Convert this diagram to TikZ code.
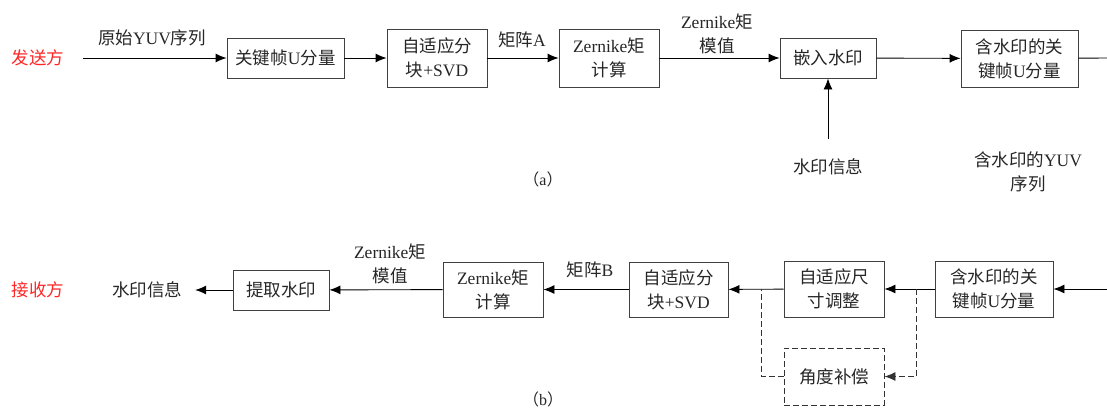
\documentclass[tikz,border=0pt]{standalone}
\usepackage{fontspec}
\setmainfont{Liberation Serif}
\newfontfamily\cjk{Noto Sans CJK SC}
\usetikzlibrary{arrows.meta}
\newcommand\zh[1]{{\cjk #1}}
\begin{document}
\begin{tikzpicture}[x=1pt,y=-1pt,
  every node/.style={font=\fontsize{17.5}{24}\selectfont, text=black!85, inner sep=0pt, align=center},
  blk/.style={draw=black!75, line width=0.9pt},
  arr/.style={line width=0.9pt, draw=black, -{Latex[length=11pt,width=9pt]}},
  ln/.style={line width=0.9pt, draw=black},
  dsh/.style={line width=0.9pt, draw=black!80, dash pattern=on 6pt off 3pt}
]
\useasboundingbox (0,0) rectangle (1107,407);
% ---------- sender (a) ----------
\node[text=red!85] (t1) at (38,58) {\zh{发送方}};
\coordinate (in1) at (83,58);
\coordinate (out1) at (1107,58);
\node[blk, minimum width=117pt, minimum height=40pt] (k1) at (285.5,58) {\zh{关键帧}U\zh{分量}};
\node[blk, minimum width=100pt, minimum height=58pt] (s1) at (437,58) {\zh{自适应分}\\\zh{块}+SVD};
\node[blk, minimum width=100pt, minimum height=58pt] (z1) at (609,58) {Zernike\zh{矩}\\\zh{计算}};
\node[blk, minimum width=96pt, minimum height=40pt] (e1) at (828,58) {\zh{嵌入水印}};
\node[blk, minimum width=117pt, minimum height=57pt] (w1) at (1019.5,58.5) {\zh{含水印的关}\\\zh{键帧}U\zh{分量}};
\node (wm1) at (828,167) {\zh{水印信息}};
\coordinate (c1) at (828,139);
\node (yuv) at (1028,172) {\zh{含水印的}YUV\\\zh{序列}};
\node (l1) at (152,38) {\zh{原始}YUV\zh{序列}};
\node (l2) at (522,40) {\zh{矩阵}A};
\node (l3) at (717,34) {Zernike\zh{矩}\\\zh{模值}};
\node[font=\fontsize{16}{18}\selectfont] (ca) at (543,179) {\zh{（}a\zh{）}};
\draw[arr] (in1) -- (k1);
\draw[arr] (k1) -- (s1);
\draw[arr] (s1) -- (z1);
\draw[arr] (z1) -- (e1);
\draw[arr] (e1) -- (w1);
\draw[ln] (w1) -- (out1);
\draw[arr] (c1) -- (e1);
% ---------- receiver (b) ----------
\node[text=red!85] (t2) at (38,290) {\zh{接收方}};
\node (wm2) at (147,290) {\zh{水印信息}};
\node[blk, minimum width=96pt, minimum height=40pt] (p1) at (281,290) {\zh{提取水印}};
\node[blk, minimum width=100pt, minimum height=55pt] (z2) at (493,289.5) {Zernike\zh{矩}\\\zh{计算}};
\node[blk, minimum width=99pt, minimum height=55pt] (s2) at (678.5,289.5) {\zh{自适应分}\\\zh{块}+SVD};
\node[blk, minimum width=100pt, minimum height=56pt] (r2) at (834,289) {\zh{自适应尺}\\\zh{寸调整}};
\node[blk, minimum width=118pt, minimum height=56pt] (w2) at (994,289) {\zh{含水印的关}\\\zh{键帧}U\zh{分量}};
\node[dsh, minimum width=100pt, minimum height=57pt] (a2) at (834,376.5) {\zh{角度补偿}};
\coordinate (in2) at (1107,289);
\coordinate (d1) at (916,289);
\coordinate (d2) at (761,289);
\node (l4) at (390,264) {Zernike\zh{矩}\\\zh{模值}};
\node (l5) at (590,270) {\zh{矩阵}B};
\node[font=\fontsize{16}{18}\selectfont] (cb) at (543,399) {\zh{（}b\zh{）}};
\draw[arr] (in2) -- (w2);
\draw[arr] (w2) -- (r2);
\draw[arr] (r2) -- (s2);
\draw[arr] (s2) -- (z2);
\draw[arr] (z2) -- (p1);
\draw[arr, shorten >=13pt] (p1) -- (wm2);
\draw[dsh, -{Latex[length=11pt,width=9pt]}] (d1) -- (d1 |- a2) -- (a2);
\draw[dsh] (a2) -- (d2 |- a2) -- (d2);
\end{tikzpicture}
\end{document}
